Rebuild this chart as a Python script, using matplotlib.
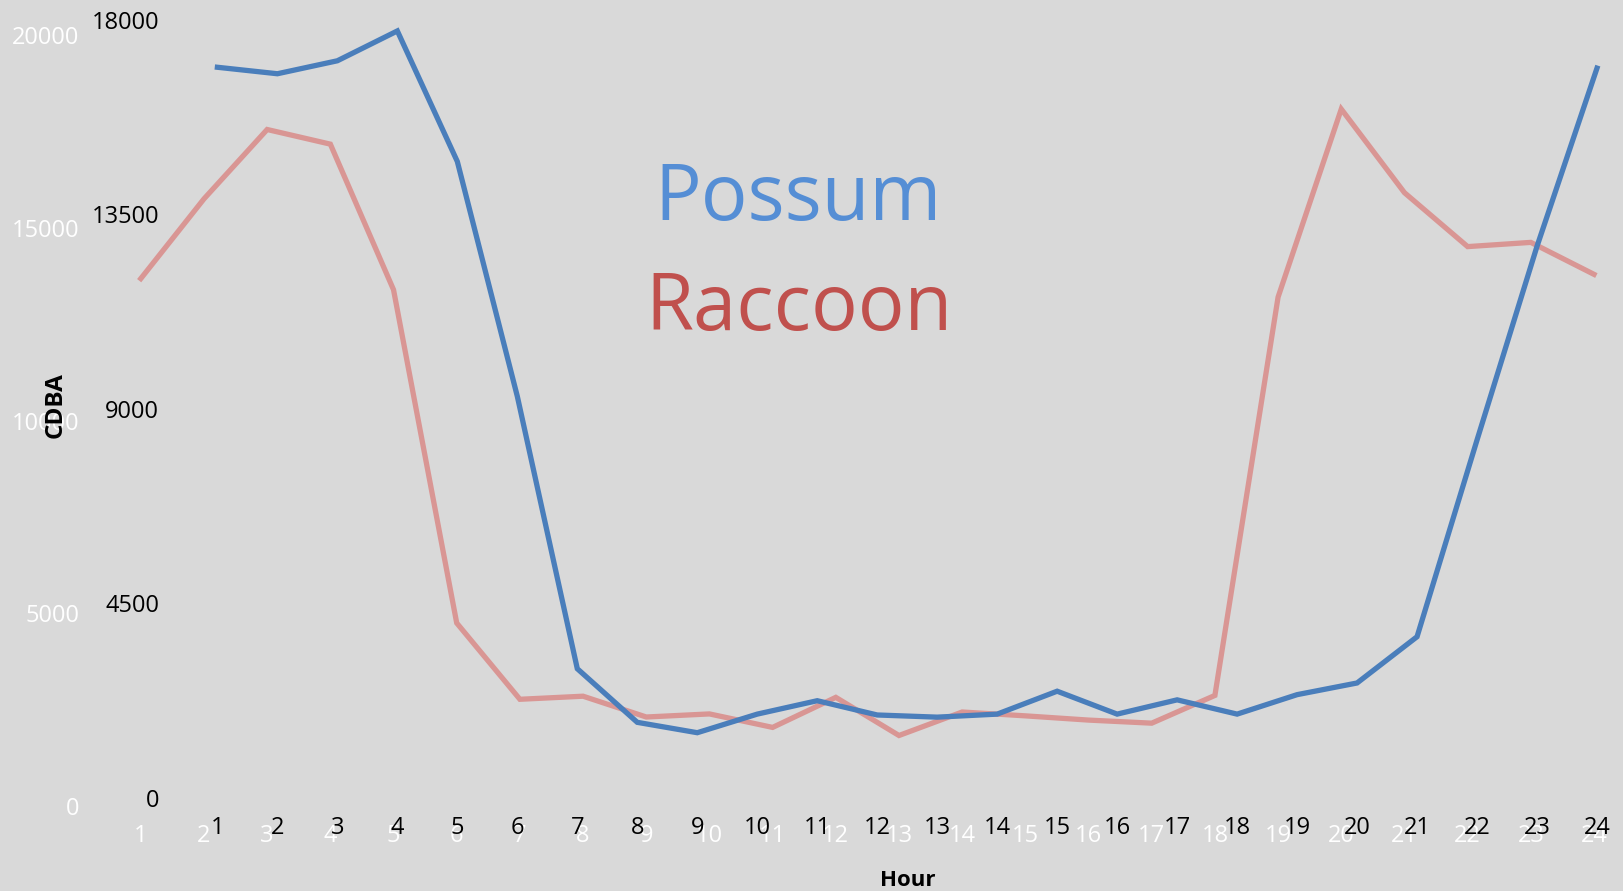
import numpy as np
import matplotlib
matplotlib.use('Agg')
from matplotlib import pyplot as plt

plt.rcParams['font.family'] = ['Open Sans', 'DejaVu Sans']

hours = list(range(1, 25))
hour_labels = [str(h) for h in hours]

# possum, read against the black axis (0-18000)
possum = [16900, 16750, 17050, 17740, 14720, 9290, 2990, 1750, 1510, 1940, 2250, 1920,
          1870, 1940, 2470, 1940, 2270, 1940, 2390, 2660, 3730, 8280, 12760, 16880]
# raccoon, read against the white axis (0-20000)
raccoon = [13690, 15760, 17560, 17180, 13400, 4750, 2770, 2850, 2310, 2390, 2040, 2820,
           1830, 2440, 2340, 2230, 2150, 2870, 13210, 18090, 15920, 14520, 14630, 13800]

possum_ticks = [0, 4500, 9000, 13500, 18000]
raccoon_ticks = [0, 5000, 10000, 15000, 20000]

bg = '#d9d9d9'
W, H = 1623, 891
fig = plt.figure(figsize=(W / 100, H / 100), dpi=100, facecolor=bg)

def box(l, r, b, t):
  return [l / W, (H - b) / H, (r - l) / W, (b - t) / H]

def style(ax, color, ypad, xpad):
  ax.set_facecolor('none')
  for s in ax.spines.values():
    s.set_visible(False)
  ax.tick_params(length=0, colors=color, labelsize=17)
  ax.tick_params(axis='y', pad=ypad)
  ax.tick_params(axis='x', pad=xpad)

# white (raccoon) axis
ax_r = fig.add_axes(box(140.8, 1594, 806, 35.5))
ax_r.plot(hours, raccoon, color='#d99694', lw=3.8, solid_joinstyle='miter', clip_on=False)
ax_r.set_xlim(1, 24)
ax_r.set_ylim(0, 20000)
ax_r.set_xticks(hours, hour_labels)
ax_r.set_yticks(raccoon_ticks)
style(ax_r, 'white', 44, 13)

# black (possum) axis
ax_p = fig.add_axes(box(217.4, 1597, 798, 19.7))
ax_p.plot(hours, possum, color='#4a7ebb', lw=3.8, solid_joinstyle='miter', clip_on=False)
ax_p.set_xlim(1, 24)
ax_p.set_ylim(0, 18000)
ax_p.set_xticks(hours, hour_labels)
ax_p.set_yticks(possum_ticks)
style(ax_p, 'black', 42, 13)

fig.text(798 / W, 1 - 220 / H, 'Possum', color='#558ed5', fontsize=56, ha='center', va='baseline')
fig.text(799 / W, 1 - 330 / H, 'Raccoon', color='#c0504d', fontsize=56, ha='center', va='baseline')
fig.text(908 / W, 1 - 886 / H, 'Hour', fontsize=16, fontweight='bold', ha='center', va='baseline')
fig.text(56 / W, 1 - 405 / H, 'CDBA', fontsize=17.5, fontweight='bold', rotation=90,
         ha='center', va='center')

plt.savefig('out.png', dpi=100, facecolor=bg)
